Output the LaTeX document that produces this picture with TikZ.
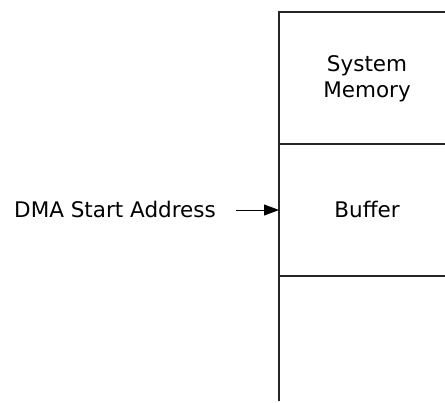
\documentclass[tikz,border=0pt]{standalone}
\usepackage{fontspec}
\setmainfont{DejaVu Sans}
\usetikzlibrary{arrows.meta}
\begin{document}
\begin{tikzpicture}[x=1bp,y=-1bp,
  lbl/.style={inner sep=0pt,font=\fontsize{21.5bp}{25.5bp}\selectfont,text=black},
  memline/.style={draw=black!85,line width=1.1bp},
  ptr/.style={draw=black,line width=1bp,-{Triangle[length=15bp,width=11bp]}}]
\useasboundingbox (0,0) rectangle (445,402);
\fill[white] (0,0) rectangle (445,402);
% memory column
\coordinate (tl) at (279,12);
\coordinate (tr) at (445,12);
\coordinate (m1l) at (279,144);
\coordinate (m1r) at (445,144);
\coordinate (m2l) at (279,276);
\coordinate (m2r) at (445,276);
\coordinate (bl) at (279,401);
\draw[memline] (tr) -- (tl) -- (bl);
\draw[memline] (m1l) -- (m1r);
\draw[memline] (m2l) -- (m2r);
% texts
\node[lbl,align=center] (sysmem) at (367,79) {System\\Memory};
\node[lbl,anchor=base] (buffer) at (367,217) {Buffer};
\node[lbl,anchor=base west] (dma) at (14,217) {DMA Start Address};
% pointer
\coordinate (ptrstart) at (236,210);
\coordinate (bufleft) at (279,210);
\draw[ptr] (ptrstart) -- (bufleft);
\end{tikzpicture}
\end{document}
